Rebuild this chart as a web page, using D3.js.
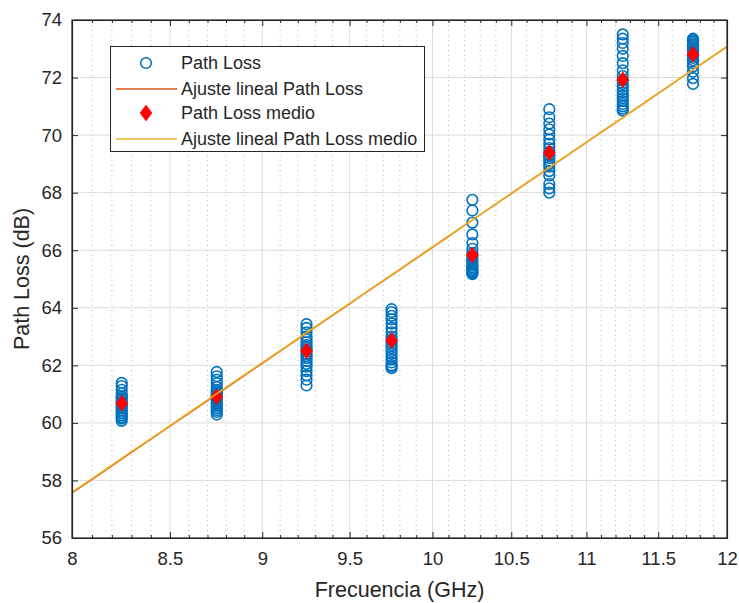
<!DOCTYPE html>
<html>
<head>
<meta charset="utf-8">
<script src="https://cdn.jsdelivr.net/npm/d3@7"></script>
<style>
  html, body { margin: 0; padding: 0; background: #fff; }
  svg { display: block; }
  text { font-family: "Liberation Sans", Arial, Helvetica, sans-serif; fill: #262626; }
</style>
</head>
<body>
<svg id="chart" width="739" height="603"></svg>
<script>
// Frequencies measured (GHz)
const frequencies = [8.25, 8.75, 9.25, 9.75, 10.25, 10.75, 11.25, 11.75];

// Path loss samples per frequency (dB)
const pl_825 = [61.39, 61.28, 61.15, 61.02, 60.93, 60.85, 60.78, 60.72, 60.66, 60.60, 60.55, 60.50, 60.44, 60.38, 60.32, 60.26, 60.20, 60.15, 60.07, 60.90];
const pl_875 = [61.77, 61.62, 61.50, 61.38, 61.25, 61.15, 61.05, 60.98, 60.92, 60.86, 60.80, 60.74, 60.68, 60.62, 60.56, 60.50, 60.44, 60.38, 60.29, 61.10];
const pl_925 = [63.43, 63.30, 63.15, 63.00, 62.90, 62.80, 62.70, 62.62, 62.55, 62.48, 62.40, 62.32, 62.25, 62.15, 62.05, 61.95, 61.80, 61.65, 61.50, 61.30];
const pl_975 = [63.95, 63.85, 63.72, 63.60, 63.45, 63.30, 63.15, 63.00, 62.90, 62.80, 62.70, 62.60, 62.50, 62.40, 62.30, 62.20, 62.10, 62.00, 61.95, 61.90];
const pl_1025 = [67.75, 67.38, 66.96, 66.55, 66.25, 66.05, 65.90, 65.80, 65.72, 65.65, 65.58, 65.52, 65.46, 65.41, 65.36, 65.31, 65.27, 65.23, 65.20, 65.17];
const pl_1075 = [70.90, 70.62, 70.40, 70.20, 70.02, 69.85, 69.70, 69.55, 69.42, 69.30, 69.30, 69.20, 69.10, 69.00, 68.90, 68.75, 68.60, 68.30, 68.15, 68.00];
const pl_1125 = [73.50, 73.35, 73.20, 73.00, 72.75, 72.50, 72.25, 72.05, 71.90, 71.78, 71.68, 71.58, 71.48, 71.38, 71.28, 71.18, 71.08, 71.00, 70.92, 70.85];
const pl_1175 = [73.35, 73.30, 73.25, 73.20, 73.15, 73.10, 73.05, 73.00, 72.95, 72.90, 72.85, 72.80, 72.74, 72.68, 72.60, 72.50, 72.38, 72.20, 71.98, 71.78];
const pathLoss = [pl_825, pl_875, pl_925, pl_975, pl_1025, pl_1075, pl_1125, pl_1175];

// Mean path loss per frequency (dB)
const meanPathLoss = [60.68, 60.91, 62.50, 62.86, 65.83, 69.39, 71.92, 72.81];

// Axis ticks
const xTicks = [8, 8.5, 9, 9.5, 10, 10.5, 11, 11.5, 12];
const xMinorTicks = [8.1, 8.2, 8.3, 8.4, 8.6, 8.7, 8.8, 8.9, 9.1, 9.2, 9.3, 9.4, 9.6, 9.7, 9.8, 9.9,
  10.1, 10.2, 10.3, 10.4, 10.6, 10.7, 10.8, 10.9, 11.1, 11.2, 11.3, 11.4, 11.6, 11.7, 11.8, 11.9];
const yTicks = [56, 58, 60, 62, 64, 66, 68, 70, 72, 74];

const legendLabels = ["Path Loss", "Ajuste lineal Path Loss", "Path Loss medio", "Ajuste lineal Path Loss medio"];

const C_BLUE = "#0072BD", C_RED_LINE = "#D95319", C_YELLOW = "#EDB120", C_AXIS = "#262626";

const svg = d3.select("#chart");
const mLeft = 72, mRight = 727, mTop = 20, mBottom = 538;

const x = d3.scaleLog().domain([8, 12]).range([mLeft, mRight]);
const y = d3.scaleLinear().domain([56, 74]).range([mBottom, mTop]);

// Least squares fit of path loss against log10(frequency)
function fitLog(xs, ys) {
  const lx = xs.map(Math.log10);
  const mx = d3.mean(lx), my = d3.mean(ys);
  let sxy = 0, sxx = 0;
  lx.forEach((v, i) => { sxy += (v - mx) * (ys[i] - my); sxx += (v - mx) * (v - mx); });
  const b = sxy / sxx, a = my - b * mx;
  return f => a + b * Math.log10(f);
}

const allF = [], allPL = [];
pathLoss.forEach((arr, i) => arr.forEach(v => { allF.push(frequencies[i]); allPL.push(v); }));
const fitAll = fitLog(allF, allPL);
const fitMean = fitLog(frequencies, meanPathLoss);

// Grid
const grid = svg.append("g");
grid.selectAll(".xminor").data(xMinorTicks).enter().append("line")
  .attr("x1", d => x(d)).attr("x2", d => x(d)).attr("y1", mTop).attr("y2", mBottom)
  .attr("stroke", "#b8b8b8").attr("stroke-width", 1).attr("stroke-dasharray", "1,4");
grid.selectAll(".xmajor").data(xTicks.slice(1, -1)).enter().append("line")
  .attr("x1", d => x(d)).attr("x2", d => x(d)).attr("y1", mTop).attr("y2", mBottom)
  .attr("stroke", "#dcdcdc").attr("stroke-width", 1);
grid.selectAll(".ymajor").data(yTicks.slice(1, -1)).enter().append("line")
  .attr("x1", mLeft).attr("x2", mRight).attr("y1", d => y(d)).attr("y2", d => y(d))
  .attr("stroke", "#dcdcdc").attr("stroke-width", 1);

// Data
const plot = svg.append("g");
const pts = [];
pathLoss.forEach((arr, i) => arr.forEach(v => pts.push({ f: frequencies[i], v })));
plot.selectAll(".pt").data(pts).enter().append("circle")
  .attr("cx", d => x(d.f)).attr("cy", d => y(d.v)).attr("r", 5.3)
  .attr("fill", "none").attr("stroke", C_BLUE).attr("stroke-width", 1.6);

const line = d3.line().x(d => x(d[0])).y(d => y(d[1]));
const fGrid = d3.range(0, 41).map(i => 8 + i * 0.1);
plot.append("path").datum(fGrid.map(f => [f, fitAll(f)])).attr("d", line)
  .attr("fill", "none").attr("stroke", C_RED_LINE).attr("stroke-width", 1.5);

const diamond = "M0,-8L6,0L0,8L-6,0Z";
plot.selectAll(".mean").data(frequencies).enter().append("path")
  .attr("d", diamond)
  .attr("transform", (d, i) => `translate(${x(d)},${y(meanPathLoss[i])})`)
  .attr("fill", "#FF0000").attr("stroke", "#FF0000").attr("stroke-width", 0.5);

plot.append("path").datum(fGrid.map(f => [f, fitMean(f)])).attr("d", line)
  .attr("fill", "none").attr("stroke", C_YELLOW).attr("stroke-width", 1.5);

// Axes box and ticks
const axes = svg.append("g");
axes.append("g").attr("transform", `translate(0,${mBottom})`)
  .call(d3.axisBottom(x).tickValues(xTicks).tickFormat(d3.format("")).tickSizeInner(-6).tickSizeOuter(0).tickPadding(14));
axes.append("g").attr("transform", `translate(0,${mTop})`)
  .call(d3.axisTop(x).tickValues(xTicks).tickFormat("").tickSizeInner(-6).tickSizeOuter(0));
axes.append("g").attr("transform", `translate(0,${mBottom})`)
  .call(d3.axisBottom(x).tickValues(xMinorTicks).tickFormat("").tickSizeInner(-3).tickSizeOuter(0));
axes.append("g").attr("transform", `translate(0,${mTop})`)
  .call(d3.axisTop(x).tickValues(xMinorTicks).tickFormat("").tickSizeInner(-3).tickSizeOuter(0));
axes.append("g").attr("transform", `translate(${mLeft},0)`)
  .call(d3.axisLeft(y).tickValues(yTicks).tickSizeInner(-6).tickSizeOuter(0).tickPadding(10));
axes.append("g").attr("transform", `translate(${mRight},0)`)
  .call(d3.axisRight(y).tickValues(yTicks).tickFormat("").tickSizeInner(-6).tickSizeOuter(0));
axes.selectAll(".domain").attr("stroke", C_AXIS).attr("stroke-width", 1.2);
axes.selectAll(".tick line").attr("stroke", C_AXIS).attr("stroke-width", 1);
axes.selectAll(".tick text").style("font-size", "18.5px").attr("fill", C_AXIS)
  .style("font-family", "'Liberation Sans', Arial, sans-serif");
axes.append("rect").attr("x", mLeft).attr("y", mTop).attr("width", mRight - mLeft).attr("height", mBottom - mTop)
  .attr("fill", "none").attr("stroke", C_AXIS).attr("stroke-width", 1.2);

// Axis labels
svg.append("text").attr("x", (mLeft + mRight) / 2).attr("y", 597).attr("text-anchor", "middle")
  .style("font-size", "21.5px").text("Frecuencia (GHz)");
svg.append("text").attr("transform", `translate(29,${(mTop + mBottom) / 2}) rotate(-90)`).attr("text-anchor", "middle")
  .style("font-size", "21.5px").text("Path Loss (dB)");

// Legend
const lg = svg.append("g");
lg.append("rect").attr("x", 110.5).attr("y", 46.5).attr("width", 314).attr("height", 105)
  .attr("fill", "#fff").attr("stroke", C_AXIS).attr("stroke-width", 1);
const rowsY = [63, 89, 113, 139];
lg.append("circle").attr("cx", 146).attr("cy", rowsY[0]).attr("r", 5.3)
  .attr("fill", "none").attr("stroke", C_BLUE).attr("stroke-width", 1.6);
lg.append("line").attr("x1", 116).attr("x2", 177).attr("y1", rowsY[1]).attr("y2", rowsY[1])
  .attr("stroke", C_RED_LINE).attr("stroke-width", 1.5);
lg.append("path").attr("d", diamond).attr("transform", `translate(146,${rowsY[2]})`)
  .attr("fill", "#FF0000").attr("stroke", "#FF0000").attr("stroke-width", 0.5);
lg.append("line").attr("x1", 116).attr("x2", 177).attr("y1", rowsY[3]).attr("y2", rowsY[3])
  .attr("stroke", C_YELLOW).attr("stroke-width", 1.5);
lg.selectAll(".lt").data(legendLabels).enter().append("text")
  .attr("x", 181).attr("y", (d, i) => rowsY[i]).attr("dy", "0.35em")
  .style("font-size", "18px").text(d => d);
</script>
</body>
</html>
